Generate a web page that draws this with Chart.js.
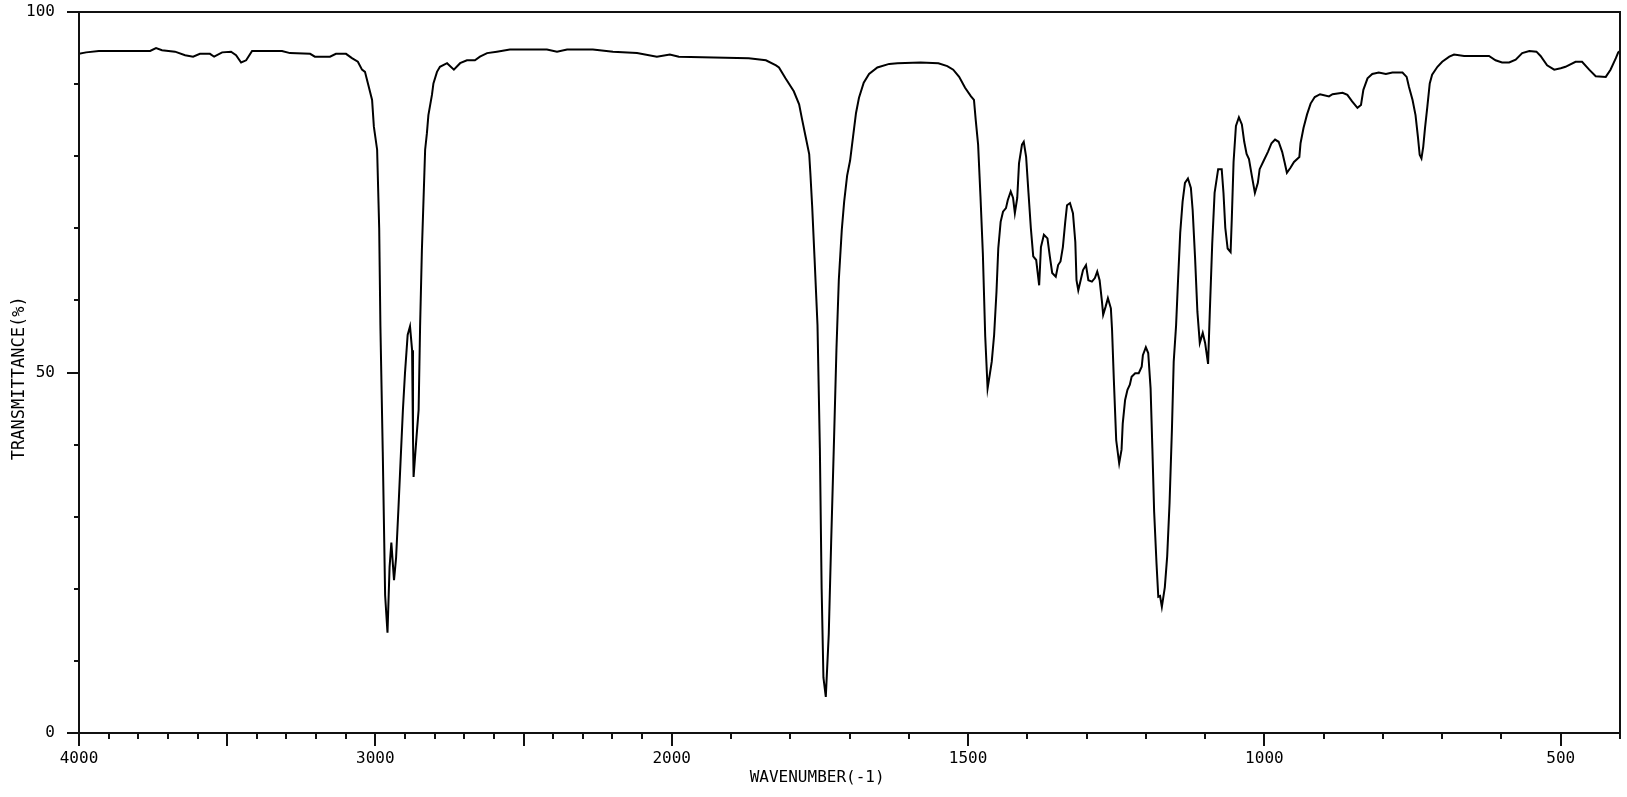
<!DOCTYPE html>
<html>
<head>
<meta charset="utf-8">
<title>IR spectrum</title>
<script src="https://cdn.jsdelivr.net/npm/chart.js@4/dist/chart.umd.min.js"></script>
<style>
  html, body { margin: 0; padding: 0; background: #fff; }
  canvas { display: block; }
</style>
</head>
<body>
<canvas id="spectrum" width="1627" height="797"></canvas>
<script>
// Spectrum: wavenumber (cm-1) and transmittance (%)
const wavenumbers = [
  4000, 3976, 3933, 3760, 3740, 3720, 3676, 3642, 3615, 3592, 3558, 3544, 3517, 3487, 3470, 3453, 3436, 3416,
  3315, 3288, 3220, 3204, 3153, 3133, 3099, 3079, 3059, 3045, 3035, 3025, 3011, 3005, 2994, 2987, 2983, 2975,
  2967, 2959, 2952, 2946, 2937, 2930, 2922, 2915, 2907, 2900, 2891, 2883, 2876, 2873, 2871, 2861, 2854, 2849,
  2843, 2832, 2826, 2821, 2809, 2804, 2792, 2782, 2758, 2735, 2714, 2691, 2664, 2647, 2623, 2590, 2546, 2421,
  2387, 2353, 2320, 2266, 2198, 2117, 2050, 2006, 1988, 1870, 1841, 1824, 1819, 1808, 1794, 1785, 1780, 1774,
  1768, 1766, 1763, 1759, 1754, 1750, 1747, 1744, 1740, 1735, 1731, 1726, 1722, 1718, 1713, 1709, 1704, 1699,
  1694, 1689, 1684, 1676, 1667, 1653, 1633, 1619, 1580, 1550, 1535, 1525, 1515, 1505, 1495, 1490, 1487, 1483,
  1479, 1475, 1471, 1467, 1463, 1460, 1456, 1452, 1449, 1445, 1441, 1436, 1433, 1428, 1424, 1421, 1417, 1414,
  1409, 1406, 1402, 1398, 1394, 1390, 1385, 1380, 1377, 1372, 1366, 1362, 1358, 1352, 1348, 1344, 1340, 1336,
  1333, 1328, 1323, 1319, 1317, 1314, 1310, 1306, 1301, 1297, 1291, 1286, 1282, 1278, 1274, 1272, 1268, 1264,
  1259, 1257, 1254, 1250, 1245, 1241, 1239, 1235, 1231, 1227, 1224, 1218, 1212, 1207, 1205, 1200, 1196, 1192,
  1189, 1186, 1182, 1179, 1176, 1173, 1168, 1164, 1160, 1156, 1153, 1149, 1146, 1142, 1138, 1134, 1129, 1124,
  1121, 1117, 1113, 1109, 1104, 1100, 1095, 1092, 1088, 1084, 1078, 1072, 1069, 1066, 1062, 1057, 1055, 1052,
  1048, 1043, 1038, 1034, 1030, 1026, 1021, 1016, 1011, 1008, 1001, 994, 988, 982, 976, 970, 966, 962,
  956, 950, 941, 939, 934, 928, 922, 915, 906, 891, 885, 868, 860, 852, 843, 837, 833, 826,
  818, 807, 795, 784, 767, 760, 756, 750, 745, 741, 738, 735, 732, 729, 725, 721, 717, 708,
  700, 688, 680, 663, 621, 610, 599, 587, 576, 565, 553, 541, 534, 523, 511, 500, 492, 475,
  464, 452, 441, 424, 416, 407, 403, 400
];
const transmittance = [
  94.2, 94.4, 94.6, 94.6, 95.0, 94.7, 94.5, 94.0, 93.8, 94.2, 94.2, 93.8, 94.4, 94.5, 94.0, 93.0, 93.3, 94.6,
  94.6, 94.3, 94.2, 93.8, 93.8, 94.2, 94.2, 93.6, 93.1, 92.0, 91.7, 90.1, 87.8, 84.1, 80.9, 70.0, 56.6, 39.0,
  19.1, 13.9, 23.0, 26.4, 21.2, 24.3, 31.2, 37.6, 44.8, 49.9, 55.2, 56.4, 53.1, 41.1, 35.5, 41.1, 44.8, 56.4,
  66.9, 80.9, 83.2, 85.7, 88.5, 90.1, 91.7, 92.4, 92.9, 92.0, 92.9, 93.3, 93.3, 93.8, 94.3, 94.5, 94.8, 94.8,
  94.5, 94.8, 94.8, 94.8, 94.5, 94.3, 93.8, 94.1, 93.8, 93.6, 93.3, 92.6, 92.3, 90.8, 89.0, 87.2, 85.1, 82.7,
  80.3, 77.6, 73.1, 65.9, 56.6, 39.5, 20.0, 7.7, 5.0, 13.7, 26.3, 41.0, 53.3, 62.9, 69.8, 73.7, 77.3, 79.4,
  82.7, 86.0, 88.1, 90.2, 91.4, 92.3, 92.8, 92.9, 93.0, 92.9, 92.5, 92.0, 91.0, 89.5, 88.3, 87.8, 85.0, 81.6,
  74.4, 66.5, 55.0, 47.8, 49.9, 51.5, 55.2, 61.2, 67.2, 70.9, 72.3, 72.8, 73.9, 75.1, 74.2, 72.1, 74.2, 79.0,
  81.6, 82.0, 79.9, 74.9, 70.0, 66.1, 65.6, 62.1, 67.4, 69.1, 68.6, 66.1, 63.8, 63.3, 64.9, 65.4, 67.4, 70.9,
  73.2, 73.5, 72.1, 68.1, 62.8, 61.4, 62.8, 64.2, 64.9, 62.8, 62.6, 63.1, 64.0, 62.8, 59.8, 58.0, 59.1, 60.3,
  58.9, 55.9, 49.0, 40.6, 37.4, 39.3, 42.9, 46.2, 47.6, 48.3, 49.4, 49.9, 49.9, 50.8, 52.4, 53.5, 52.7, 47.8,
  39.5, 30.7, 23.5, 18.9, 19.0, 17.5, 20.2, 24.5, 31.9, 42.1, 51.5, 56.5, 62.2, 69.4, 73.7, 76.3, 76.9, 75.6,
  72.5, 66.0, 58.4, 54.1, 55.5, 54.1, 51.2, 58.6, 67.9, 74.9, 78.2, 78.2, 74.9, 70.1, 67.2, 66.7, 71.3, 79.2,
  84.2, 85.4, 84.4, 82.0, 80.3, 79.6, 77.2, 74.9, 76.3, 78.2, 79.4, 80.6, 81.8, 82.3, 82.0, 80.6, 79.2, 77.7,
  78.4, 79.2, 79.9, 81.8, 83.9, 85.8, 87.3, 88.2, 88.6, 88.3, 88.6, 88.8, 88.5, 87.6, 86.7, 87.1, 89.2, 90.8,
  91.4, 91.6, 91.4, 91.6, 91.6, 91.0, 89.6, 87.8, 85.7, 82.7, 80.2, 79.7, 81.3, 83.9, 86.9, 90.1, 91.3, 92.4,
  93.1, 93.8, 94.1, 93.9, 93.9, 93.3, 93.0, 93.0, 93.4, 94.3, 94.6, 94.5, 93.9, 92.6, 92.0, 92.2, 92.4, 93.1,
  93.1, 92.0, 91.1, 91.0, 92.0, 93.6, 94.4, 94.6
];

// Axis ticks (cm-1 and %)
const xTicks = [
  4000, 3900, 3800, 3700, 3600, 3500, 3400, 3300, 3200, 3100, 3000, 2900, 2800, 2700, 2600, 2500, 2400, 2300,
  2200, 2100, 2000, 1900, 1800, 1700, 1600, 1500, 1400, 1300, 1200, 1100, 1000, 900, 800, 700, 600, 500, 400
];
const xTickLabels = [4000, 3000, 2000, 1500, 1000, 500];
const xMajorTicks = [4000, 3500, 3000, 2500, 2000, 1500, 1000, 500];
const yTicks = [0, 10, 20, 30, 40, 50, 60, 70, 80, 90, 100];
const yTickLabels = [0, 50, 100];

const xTitle = 'WAVENUMBER(-1)';
const yTitle = 'TRANSMITTANCE(%)';
const FONT = "'DejaVu Sans Mono', 'Liberation Mono', monospace";

// The x axis is split: 4000-2000 at half the scale of 2000-400
function toPos(w) {
  return w >= 2000 ? (4000 - w) / 2 : 3000 - w;
}
function fromPos(p) {
  return Math.round(p <= 1000 ? 4000 - 2 * p : 3000 - p);
}

const points = wavenumbers.map((w, i) => ({ x: toPos(w), y: transmittance[i] }));

// keep the plot box where the original has it: no extra room for label overhang
function noOverhang(scale) {
  scale.paddingTop = 0;
  scale.paddingBottom = 0;
  scale.paddingLeft = 0;
  scale.paddingRight = 0;
}

// Draws the frame, the long/short tick marks and both axis titles
const frameTicks = {
  id: 'frameTicks',
  afterDraw(chart) {
    const { ctx, chartArea: a, scales: { x, y } } = chart;
    ctx.save();
    ctx.strokeStyle = '#111';
    ctx.lineWidth = 2;
    ctx.strokeRect(a.left, a.top, a.right - a.left, a.bottom - a.top);
    ctx.beginPath();
    xTicks.forEach(w => {
      const px = Math.round(x.getPixelForValue(toPos(w)));
      const len = xMajorTicks.includes(w) ? 13 : 6;
      ctx.moveTo(px, a.bottom);
      ctx.lineTo(px, a.bottom + len);
    });
    yTicks.forEach(v => {
      const py = Math.round(y.getPixelForValue(v));
      const len = yTickLabels.includes(v) ? 12 : 5;
      ctx.moveTo(a.left - len, py);
      ctx.lineTo(a.left, py);
    });
    ctx.stroke();

    ctx.fillStyle = '#000';
    ctx.textAlign = 'center';
    ctx.textBaseline = 'middle';
    ctx.font = '16px ' + FONT;
    ctx.fillText(xTitle, a.left + (a.right - a.left) * 0.479, a.bottom + 45);

    // y title sits a little below the middle of the plot, as in the original
    ctx.font = '17px ' + FONT;
    ctx.translate(20, a.top + (a.bottom - a.top) * 0.508);
    ctx.rotate(-Math.PI / 2);
    ctx.fillText(yTitle, 0, 0);
    ctx.restore();
  }
};

new Chart(document.getElementById('spectrum'), {
  type: 'line',
  data: {
    datasets: [{
      data: points,
      borderColor: '#000',
      borderWidth: 2,
      pointRadius: 0,
      tension: 0,
      fill: false
    }]
  },
  options: {
    responsive: false,
    animation: false,
    layout: { padding: { left: 0, right: 7, top: 12, bottom: 0 } },
    plugins: {
      legend: { display: false },
      tooltip: { enabled: false }
    },
    scales: {
      x: {
        type: 'linear',
        min: 0,
        max: toPos(400),
        grid: { display: false },
        border: { display: false },
        afterBuildTicks: scale => {
          scale.ticks = xTicks.map(w => ({ value: toPos(w) }));
        },
        afterFit: scale => {
          scale.height = 64;
          noOverhang(scale);
        },
        ticks: {
          autoSkip: false,
          maxRotation: 0,
          minRotation: 0,
          padding: 8,
          color: '#000',
          font: { family: FONT, size: 16 },
          callback: value => {
            const w = fromPos(value);
            return xTickLabels.includes(w) ? String(w) : '';
          }
        }
      },
      y: {
        min: 0,
        max: 100,
        grid: { display: false },
        border: { display: false },
        afterBuildTicks: scale => {
          scale.ticks = yTicks.map(v => ({ value: v }));
        },
        afterFit: scale => {
          scale.width = 79;
          noOverhang(scale);
        },
        ticks: {
          autoSkip: false,
          padding: 16,
          color: '#000',
          font: { family: FONT, size: 16 },
          callback: value => (yTickLabels.includes(value) ? String(value) : '')
        }
      }
    }
  },
  plugins: [frameTicks]
});
</script>
</body>
</html>
